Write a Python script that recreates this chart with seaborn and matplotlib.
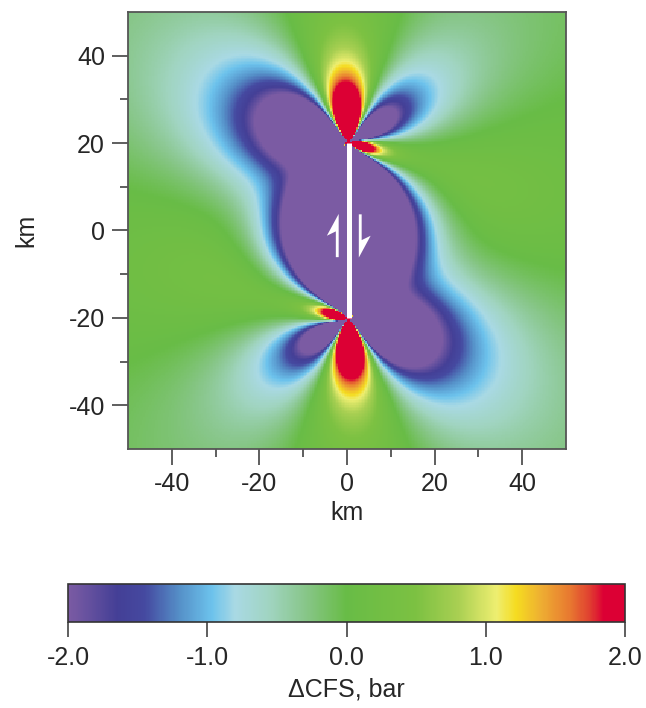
"""
Coulomb stress change (dCFS) map around a right-lateral strike-slip fault.
Full-space point-source model (fault mirrored about the surface), receivers
parallel to the fault, map slice at mid-depth.
"""
import numpy as np
import matplotlib
matplotlib.use('Agg')
import matplotlib.pyplot as plt
from matplotlib.colors import LinearSegmentedColormap
import seaborn as sns

# fault and model parameters
fault_x = 0.5                 # km, trace position
fault_ends = [-20.0, 20.0]    # km, south and north tips
fault_depth = 11.0            # km, locking depth
calc_depth = 5.5              # km, depth of the map slice
slip = 1.05                   # m, right-lateral
shear_modulus = 3.2e5         # bar
poisson = 0.25
friction = 0.35               # effective friction coefficient
extent = [-50.0, 50.0]        # km, map window
n_cells = 288
n_depth = 90

# colour scale
cbar_ticks = [-2.0, -1.0, 0.0, 1.0, 2.0]
cmap_levels = [-2.0, -1.9, -1.65, -1.45, -1.2, -0.97, -0.8, -0.55, -0.3, 0.0,
               0.5, 0.8, 1.08, 1.22, 1.4, 1.6, 1.75, 1.85, 2.0]
cmap_colors = ['#7b5ba3', '#6c54a0', '#443f96', '#4549a0', '#5590c8', '#6cc2ec',
               '#a9d9e4', '#a0d4c0', '#88c68a', '#68bc46', '#7cc142', '#a8cf52',
               '#eeee70', '#f5dc20', '#eeae32', '#e87a30', '#e04030', '#dc0034',
               '#dc0034']

# slip-sense harpoons drawn on the fault (km)
harpoon_up = [(-2.55, -6.1), (-1.9, -6.1), (-1.9, 3.8), (-4.6, -1.2), (-2.55, -0.2)]
harpoon_pivot = (0.4, -1.2)

major_ticks = [-40, -20, 0, 20, 40]
minor_ticks = [-30, -10, 10, 30]


def g2(i, j, k, l, r, q3, q5, q7, a):
    """Second derivative G_ij,kl of the Kelvin solution (without 1/16pi mu(1-nu))."""
    out = 15.0 * r[i] * r[j] * r[k] * r[l] * q7
    if i == j:
        out = out + 3.0 * a * r[k] * r[l] * q5
        if k == l:
            out = out - a * q3
    if i == k and j == l:
        out = out + q3
    if j == k and i == l:
        out = out + q3
    if i == k:
        out = out - 3.0 * r[j] * r[l] * q5
    if j == k:
        out = out - 3.0 * r[i] * r[l] * q5
    if i == l:
        out = out - 3.0 * r[j] * r[k] * q5
    if j == l:
        out = out - 3.0 * r[i] * r[k] * q5
    if k == l:
        out = out - 3.0 * r[i] * r[j] * q5
    return out


def coulomb_field():
    dx = (extent[1] - extent[0]) / n_cells
    centres = extent[0] + (np.arange(n_cells) + 0.5) * dx
    x0 = extent[0] + round((fault_x - extent[0]) / dx) * dx   # fault on a cell edge
    a = 3.0 - 4.0 * poisson
    lam = 2.0 * poisson / (1.0 - 2.0 * poisson)

    rx = (centres - x0)[:, None]
    ry = (np.arange(-(n_cells - 1), n_cells) * dx)[None, :]
    dz = 2.0 * fault_depth / n_depth
    z_src = -fault_depth + (np.arange(n_depth) + 0.5) * dz

    uxx = np.zeros((n_cells, 2 * n_cells - 1))
    uyy = np.zeros_like(uxx)
    uzz = np.zeros_like(uxx)
    uxy = np.zeros_like(uxx)
    uyx = np.zeros_like(uxx)
    X, Y, Z = 0, 1, 2
    for zs in z_src:
        rz = np.full_like(uxx, calc_depth - zs)
        r = [rx + 0 * ry, ry + 0 * rx, rz]
        rr = np.sqrt(r[0]**2 + r[1]**2 + r[2]**2)
        q3 = rr**-3
        q5 = q3 / rr**2
        q7 = q5 / rr**2
        args = (r, q3, q5, q7, a)
        uxx += g2(X, X, Y, X, *args) + g2(X, Y, X, X, *args)
        uyy += g2(Y, X, Y, Y, *args) + g2(Y, Y, X, Y, *args)
        uzz += g2(Z, X, Y, Z, *args) + g2(Z, Y, X, Z, *args)
        uxy += g2(X, X, Y, Y, *args) + g2(X, Y, X, Y, *args)
        uyx += g2(Y, X, Y, X, *args) + g2(Y, Y, X, X, *args)

    amp = shear_modulus * slip * 1e-3 * dx * dz / (16 * np.pi * (1 - poisson))
    shear = -amp * (uxy + uyx)                     # resolved in the right-lateral sense
    normal = amp * (lam * (uxx + uyy + uzz) + 2.0 * uxx)   # sigma_xx, tension +
    kernel = shear + friction * normal

    # convolve the point kernel along strike over the fault length
    src = np.where((centres >= fault_ends[0]) & (centres <= fault_ends[1]))[0]
    s0, s1 = src[0], src[-1]
    csum = np.concatenate([np.zeros((n_cells, 1)), np.cumsum(kernel, axis=1)], axis=1)
    j = np.arange(n_cells)
    total = csum[:, j - s0 + n_cells] - csum[:, j - s1 + n_cells - 1]
    field = total.T[::-1]          # rows from north to south, columns west to east
    return np.clip(field, -2.0, 2.0), dx


field, dx = coulomb_field()


def to_col(x):
    return (np.asarray(x) - extent[0]) / dx


def to_row(y):
    return (extent[1] - np.asarray(y)) / dx


sns.set_style("ticks")
plt.rcParams['font.family'] = ['Liberation Sans', 'DejaVu Sans']
plt.rcParams['axes.unicode_minus'] = False

fig = plt.figure(figsize=(6.46, 7.08), dpi=100)
ax = fig.add_axes([128 / 646, 1 - 449 / 708, 438 / 646, 437 / 708])
cax = fig.add_axes([68 / 646, 1 - 622 / 708, 557 / 646, 38 / 708])

cmap = LinearSegmentedColormap.from_list(
    "cfs", [((v + 2.0) / 4.0, c) for v, c in zip(cmap_levels, cmap_colors)], N=512)

sns.heatmap(field, ax=ax, cmap=cmap, vmin=-2, vmax=2, cbar_ax=cax,
            cbar_kws={"orientation": "horizontal", "ticks": cbar_ticks},
            xticklabels=False, yticklabels=False, rasterized=True)

# fault trace and slip arrows
ax.plot(to_col([fault_x, fault_x]), to_row(fault_ends), color='white',
        lw=3.6, solid_capstyle='butt')
hx = np.array([p[0] for p in harpoon_up])
hy = np.array([p[1] for p in harpoon_up])
ax.fill(to_col(hx), to_row(hy), color='white', lw=0)
ax.fill(to_col(2 * harpoon_pivot[0] - hx), to_row(2 * harpoon_pivot[1] - hy),
        color='white', lw=0)

# axes frame and ticks
for sp in ax.spines.values():
    sp.set_visible(True)
    sp.set_color('#555555')
    sp.set_linewidth(1.3)
ax.set_xticks(to_col(major_ticks))
ax.set_xticklabels([str(t) for t in major_ticks])
ax.set_yticks(to_row(major_ticks))
ax.set_yticklabels([str(t) for t in major_ticks], rotation=0)
ax.set_xticks(to_col(minor_ticks), minor=True)
ax.set_yticks(to_row(minor_ticks), minor=True)
ax.tick_params(which='major', length=11.5, width=1.1, color='#333333',
               labelsize=18, pad=5, direction='out')
ax.tick_params(which='minor', length=6, width=1.1, color='#333333', direction='out')
ax.set_xlabel('km', fontsize=18, labelpad=4)
ax.set_ylabel('km', fontsize=18, labelpad=22)

# colour bar
cax.tick_params(length=11, width=1.1, color='#333333', labelsize=18, pad=6)
cax.set_xticklabels(['%.1f' % t for t in cbar_ticks])
cbar = ax.collections[0].colorbar
cbar.outline.set_visible(True)
cbar.outline.set_edgecolor('#333333')
cbar.outline.set_linewidth(1.2)
cax.set_xlabel('\u0394CFS, bar', fontsize=18, labelpad=6)

plt.savefig('out.png', dpi=100)
plt.close()
